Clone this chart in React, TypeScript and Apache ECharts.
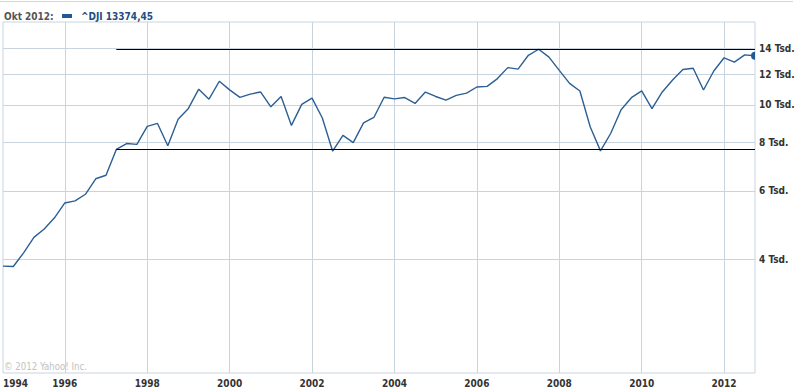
import React, { useEffect, useRef } from "react";
import * as echarts from "echarts";

// Quarterly closes of the Dow Jones Industrial Average, plotted at quarter start
const dates: string[] = [
  "1994-07", "1994-10",
  "1995-01", "1995-04", "1995-07", "1995-10",
  "1996-01", "1996-04", "1996-07", "1996-10",
  "1997-01", "1997-04", "1997-07", "1997-10",
  "1998-01", "1998-04", "1998-07", "1998-10",
  "1999-01", "1999-04", "1999-07", "1999-10",
  "2000-01", "2000-04", "2000-07", "2000-10",
  "2001-01", "2001-04", "2001-07", "2001-10",
  "2002-01", "2002-04", "2002-07", "2002-10",
  "2003-01", "2003-04", "2003-07", "2003-10",
  "2004-01", "2004-04", "2004-07", "2004-10",
  "2005-01", "2005-04", "2005-07", "2005-10",
  "2006-01", "2006-04", "2006-07", "2006-10",
  "2007-01", "2007-04", "2007-07", "2007-10",
  "2008-01", "2008-04", "2008-07", "2008-10",
  "2009-01", "2009-04", "2009-07", "2009-10",
  "2010-01", "2010-04", "2010-07", "2010-10",
  "2011-01", "2011-04", "2011-07", "2011-10",
  "2012-01", "2012-04", "2012-07", "2012-10",
];

const closes: number[] = [
  3843.19, 3834.44,
  4157.69, 4556.1, 4789.08, 5117.12,
  5587.14, 5654.63, 5882.17, 6448.27,
  6583.48, 7672.79, 7945.26, 7908.25,
  8799.81, 8952.02, 7842.62, 9181.43,
  9786.16, 10970.8, 10336.95, 11497.12,
  10921.92, 10447.89, 10650.92, 10787.99,
  9878.78, 10502.4, 8847.56, 10021.5,
  10403.94, 9243.26, 7591.93, 8341.63,
  7992.13, 8985.44, 9275.06, 10453.92,
  10357.7, 10435.48, 10080.27, 10783.01,
  10503.76, 10274.97, 10568.7, 10717.5,
  11109.32, 11150.22, 11679.07, 12463.15,
  12354.35, 13408.62, 13895.63, 13264.82,
  12262.89, 11350.01, 10850.66, 8776.39,
  7608.92, 8447.0, 9712.28, 10428.05,
  10856.63, 9774.02, 10788.05, 11577.51,
  12319.73, 12414.34, 10913.38, 12217.56,
  13212.04, 12880.09, 13437.13, 13374.45,
];

const xGridYears: number[] = [1996, 1998, 2000, 2002, 2004, 2006, 2008, 2010, 2012];
const yTickValues: number[] = [4000, 6000, 8000, 10000, 12000, 14000];
const yUnit = "Tsd.";
const rangeStart = "1997-04";
const rangeHigh = 13895.63;
const rangeLow = 7672.79;
const headerMonth = "Okt 2012";
const symbolName = "^DJI";
const copyright = "\u00A9 2012 Yahoo! Inc.";

const FONT = "'DejaVu Sans Condensed', 'DejaVu Sans', sans-serif";
const GRID_COLOR = "#c8d5df";
const LINE_COLOR = "#2c5f93";

function toYear(d: string): number {
  const [y, m] = d.split("-").map(Number);
  return y + (m - 1) / 12;
}

function fmtDe(v: number): string {
  return v.toFixed(2).replace(".", ",");
}

export default function App() {
  const ref = useRef<HTMLDivElement>(null);

  useEffect(() => {
    document.body.style.margin = "0";
    if (!ref.current) return;
    const chart = echarts.init(ref.current, undefined, { renderer: "svg" });
    const pts = dates.map((d, i) => [toYear(d), closes[i]]);
    const xMin = toYear(dates[0]);
    const xMax = toYear(dates[dates.length - 1]);
    const startX = toYear(rangeStart);
    const last = closes[closes.length - 1];

    chart.setOption({
      animation: false,
      grid: {
        left: 2,
        right: 41,
        top: 22,
        bottom: 18,
        show: true,
        borderColor: GRID_COLOR,
        borderWidth: 1,
        backgroundColor: "#fff",
      },
      xAxis: {
        type: "value",
        min: xMin,
        max: xMax,
        axisLine: { show: false },
        axisTick: { show: false },
        splitLine: { show: false },
        axisLabel: {
          customValues: [xMin, ...xGridYears],
          formatter: (v: number) => String(Math.floor(v + 1e-6)),
          alignMinLabel: "left",
          color: "#333",
          fontWeight: "bold",
          fontSize: 10,
          fontFamily: FONT,
          margin: 5,
        },
      },
      yAxis: {
        type: "log",
        logBase: 10,
        min: 2039,
        max: 16333,
        position: "right",
        axisLine: { show: false },
        axisTick: { show: false },
        splitLine: { show: false },
        axisLabel: { show: false },
      },
      graphic: [
        {
          type: "line",
          shape: { x1: 0, y1: 1.5, x2: 793, y2: 1.5 },
          style: { stroke: "#d6d6d6", lineWidth: 1 },
        },
        {
          type: "text",
          x: 4,
          y: 16,
          style: {
            text: headerMonth + ":",
            fill: "#555",
            font: `bold 10px ${FONT}`,
            verticalAlign: "middle",
          },
        },
        {
          type: "rect",
          shape: { x: 62, y: 14, width: 10, height: 4 },
          style: { fill: "#1f5a96" },
        },
        {
          type: "text",
          x: 81,
          y: 16,
          style: {
            text: `${symbolName} ${fmtDe(last)}`,
            fill: "#1d4e86",
            font: `bold 10px ${FONT}`,
            verticalAlign: "middle",
          },
        },
        {
          type: "text",
          x: 4,
          y: 366,
          z: 10,
          style: {
            text: copyright,
            fill: "#c2c2c2",
            font: `9.6px ${FONT}`,
            verticalAlign: "middle",
          },
        },
      ],
      series: [
        {
          type: "line",
          name: "grid",
          data: [],
          silent: true,
          z: 1,
          markLine: {
            silent: true,
            z: 1,
            symbol: ["none", "none"],
            lineStyle: { color: GRID_COLOR, width: 1, type: "solid" },
            label: { show: false },
            emphasis: { disabled: true },
            data: [
              ...yTickValues.map((v) => ({
                yAxis: v,
                label: {
                  show: true,
                  position: "end",
                  distance: 4,
                  formatter: `${v / 1000} ${yUnit}`,
                  color: "#333",
                  fontWeight: "bold",
                  fontSize: 10,
                  fontFamily: FONT,
                },
              })),
              ...xGridYears.map((v) => ({ xAxis: v })),
            ],
          },
        },
        {
          type: "line",
          name: symbolName,
          data: pts,
          z: 3,
          symbol: "none",
          lineStyle: { color: LINE_COLOR, width: 1.4 },
          itemStyle: { color: LINE_COLOR },
          markLine: {
            silent: true,
            z: 4,
            symbol: ["none", "none"],
            lineStyle: { color: "#000", width: 1.2, type: "solid" },
            label: { show: false },
            emphasis: { disabled: true },
            data: [
              [{ coord: [startX, rangeHigh] }, { coord: [xMax, rangeHigh] }],
              [{ coord: [startX, rangeLow] }, { coord: [xMax, rangeLow] }],
            ],
          },
          markPoint: {
            silent: true,
            symbol: "path://M10,0 A10,10 0 0 0 10,20 Z",
            symbolSize: [4, 8],
            symbolOffset: [-2, 0],
            itemStyle: { color: "#1f5a96" },
            label: { show: false },
            data: [{ coord: [xMax, last] }],
          },
        },
      ],
    });

    return () => chart.dispose();
  }, []);

  return <div ref={ref} style={{ width: 796, height: 391 }} />;
}
